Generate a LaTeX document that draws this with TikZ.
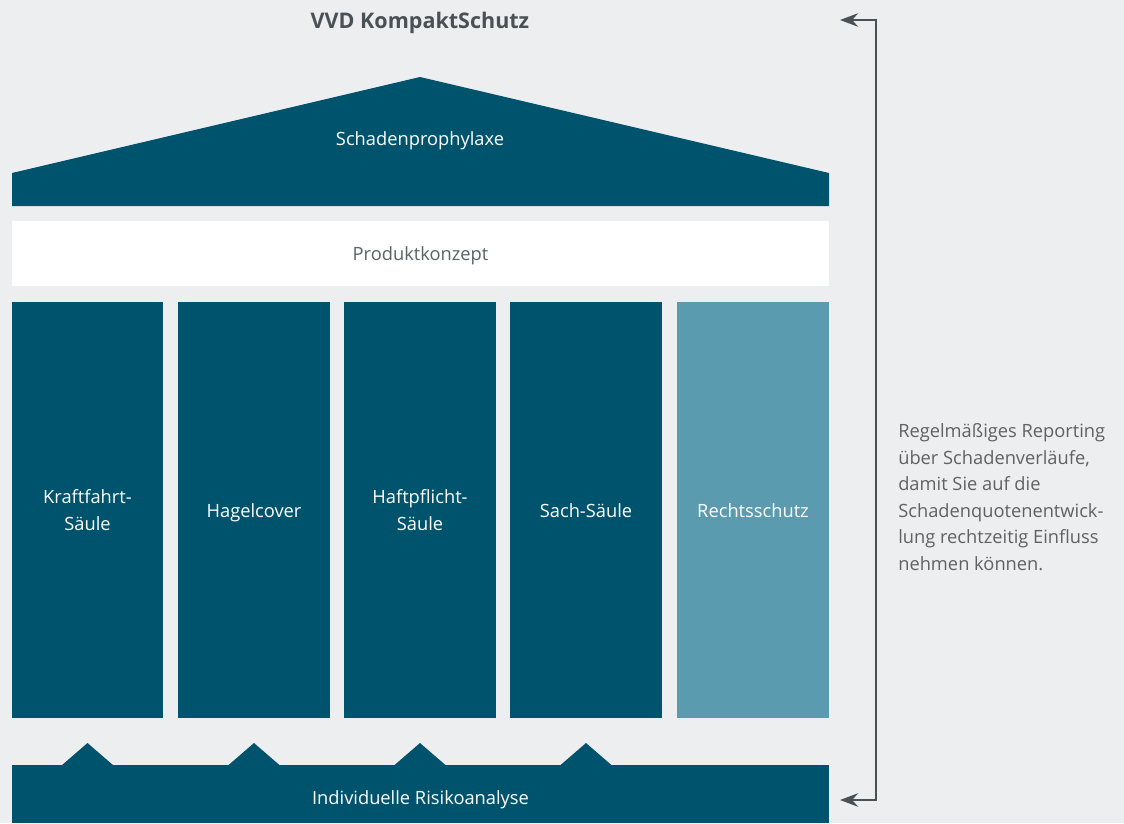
\documentclass[tikz,border=0pt]{standalone}
\usepackage{fontspec}
\setmainfont{Open Sans}
\usepackage{xcolor}
\usepackage{tikz}
\usetikzlibrary{arrows.meta}
\usetikzlibrary{calc}
\usetikzlibrary{positioning}

\definecolor{vvdblau}{HTML}{00536C}
\definecolor{vvdhell}{HTML}{5A9BAF}
\definecolor{vvdgrund}{HTML}{EDEEF0}
\definecolor{vvdgrau}{HTML}{4A5155}
\definecolor{vvdtext}{HTML}{5E6265}

\tikzset{
  saeule/.style={rectangle, fill=vvdblau, text=white, minimum width=3.775cm,
    minimum height=10.4cm, inner sep=0pt, align=center, font=\fontsize{13}{19}\selectfont},
  einzeilig/.style={text height=13pt, text depth=3pt},
  klammer/.style={draw=vvdgrau, line width=1.9pt, {Stealth[length=12.8pt,width=9.5pt]}-{Stealth[length=12.8pt,width=9.5pt]}}
}

\begin{document}
\begin{tikzpicture}[x=0.025cm,y=-0.025cm]
\useasboundingbox (0,0) rectangle (1124,823);
\fill[vvdgrund] (0,0) rectangle (1124,823);
% Titel
\node [text=vvdgrau, font=\bfseries\fontsize{15.3}{18}\selectfont] (titel) at (420,23) {VVD KompaktSchutz};
% Dach
\fill[vvdblau] (12,206) -- (12,173) -- (420,77) -- (829,173) -- (829,206) -- cycle;
\node [text=white, font=\fontsize{13}{16}\selectfont] (dach) at (420,141) {Schadenprophylaxe};
% Produktkonzept
\node [rectangle, fill=white, minimum width=20.425cm, minimum height=1.625cm, inner sep=0pt,
  einzeilig, text=vvdtext, font=\fontsize{13}{16}\selectfont] (konzept) at (420.5,253.5) {Produktkonzept};
% Saeulen
\node [saeule] (kraft) at (87.5,510) {Kraftfahrt-\\Säule};
\node [saeule, einzeilig] (hagel) at (254,510) {Hagelcover};
\node [saeule] (haft) at (420,510) {Haftpflicht-\\Säule};
\node [saeule, einzeilig] (sach) at (586,510) {Sach-Säule};
\node [saeule, einzeilig, fill=vvdhell] (recht) at (753,510) {Rechtsschutz};
% Fundament
\fill[vvdblau] (12,765) rectangle (829,823);
\foreach \x in {87.5, 254, 420, 586}
  \fill[vvdblau] (\x-26,765.5) -- (\x,743) -- (\x+26,765.5) -- cycle;
\node [text=white, font=\fontsize{13}{16}\selectfont] (fundament) at (420.5,799.5) {Individuelle Risikoanalyse};
% Reporting
\coordinate (pfeiloben) at (840,20);
\coordinate (pfeilunten) at (840,800);
\draw [klammer] (pfeiloben) -- ++(36,0) |- (pfeilunten);
\node [anchor=north west, align=left, text=vvdtext, inner sep=0pt,
  font=\fontsize{13}{18.85}\selectfont] (reporting) at (898,423.5) {Regelmäßiges Reporting\\über Schadenverläufe,\\damit Sie auf die\\Schadenquotenentwick-\\lung rechtzeitig Einfluss\\nehmen können.};
\end{tikzpicture}
\end{document}
